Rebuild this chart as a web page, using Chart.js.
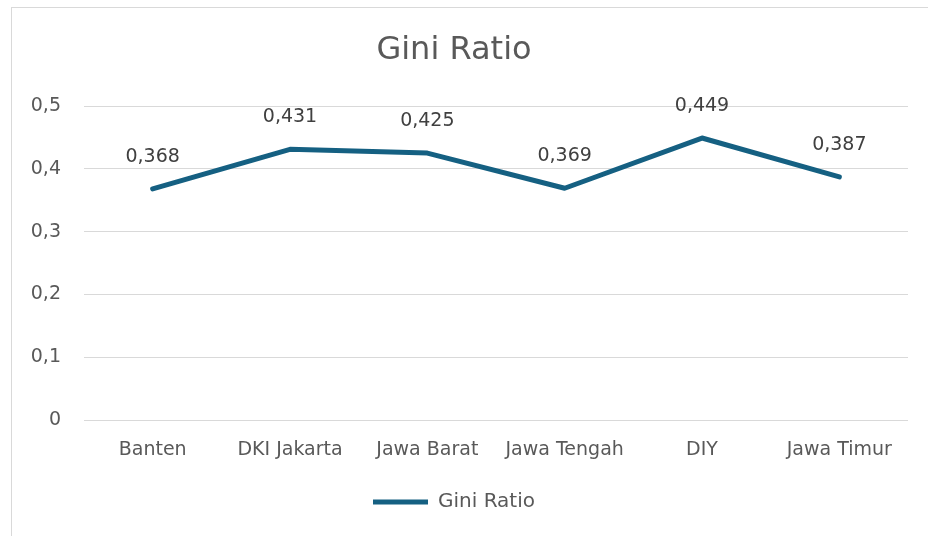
<!DOCTYPE html>
<html lang="id">
  <head>
    <meta charset="UTF-8" />
    <title>Gini Ratio</title>
    <script src="https://cdn.jsdelivr.net/npm/chart.js"></script>
    <style>
      html, body { margin: 0; padding: 0; background: #fff; overflow: hidden; }
      .frame {
        position: absolute; left: 11px; top: 7px; width: 940px; height: 560px;
        border: 1.5px solid #d9d9d9; box-sizing: border-box;
      }
      .chart-box { position: absolute; left: 0; top: 0; width: 928px; height: 536px; }
    </style>
  </head>
  <body>
    <div class="frame"></div>
    <div class="chart-box"><canvas id="giniChart"></canvas></div>
    <script>
      const provinces = ["Banten", "DKI Jakarta", "Jawa Barat", "Jawa Tengah", "DIY", "Jawa Timur"];
      const giniValues = [0.368, 0.431, 0.425, 0.369, 0.449, 0.387];
      const yTicks = [0, 0.1, 0.2, 0.3, 0.4, 0.5];

      const fontFamily = "'DejaVu Sans', 'Open Sans', sans-serif";
      const textColor = "#595959";

      const toComma = (v) => String(v).replace(".", ",");

      // value labels above each point
      const pointLabels = {
        id: "pointLabels",
        afterDatasetsDraw(chart) {
          const { ctx } = chart;
          const meta = chart.getDatasetMeta(0);
          ctx.save();
          ctx.font = "19px " + fontFamily;
          ctx.fillStyle = "#404040";
          ctx.textAlign = "center";
          ctx.textBaseline = "middle";
          meta.data.forEach((pt, i) => {
            ctx.fillText(toComma(giniValues[i]), pt.x, pt.y - 32);
          });
          ctx.restore();
        },
      };

      new Chart(document.getElementById("giniChart"), {
        type: "line",
        data: {
          labels: provinces,
          datasets: [
            {
              label: "Gini Ratio",
              data: giniValues,
              borderColor: "#156082",
              backgroundColor: "#156082",
              borderWidth: 5,
              borderCapStyle: "round",
              borderJoinStyle: "round",
              pointRadius: 0,
              tension: 0,
            },
          ],
        },
        options: {
          responsive: true,
          maintainAspectRatio: false,
          animation: false,
          layout: { padding: { left: 0, right: 20, top: 0, bottom: 14 } },
          plugins: {
            title: {
              display: true,
              text: "Gini Ratio",
              color: textColor,
              font: { family: fontFamily, size: 32, weight: "normal" },
              padding: { top: 31, bottom: 36.6 },
            },
            legend: {
              position: "bottom",
              labels: {
                color: textColor,
                font: { family: fontFamily, size: 20 },
                usePointStyle: true,
                pointStyle: "line",
                pointStyleWidth: 55,
                boxHeight: 20,
                padding: 10,
              },
            },
            tooltip: { enabled: false },
          },
          scales: {
            x: {
              offset: true,
              afterFit(scale) { scale.height = 62; },
              grid: { display: false, drawTicks: false },
              border: { display: false },
              ticks: {
                color: textColor,
                font: { family: fontFamily, size: 19 },
                padding: 19,
                maxRotation: 0,
              },
            },
            y: {
              min: 0,
              max: 0.5,
              afterFit(scale) { scale.width = 84; },
              afterBuildTicks(scale) { scale.ticks = yTicks.map((v) => ({ value: v })); },
              grid: { color: "#d9d9d9", lineWidth: 1, drawTicks: false },
              border: { display: false },
              ticks: {
                color: textColor,
                font: { family: fontFamily, size: 19 },
                padding: 23,
                callback: (v) => toComma(v),
              },
            },
          },
        },
        plugins: [pointLabels],
      });
    </script>
  </body>
</html>
